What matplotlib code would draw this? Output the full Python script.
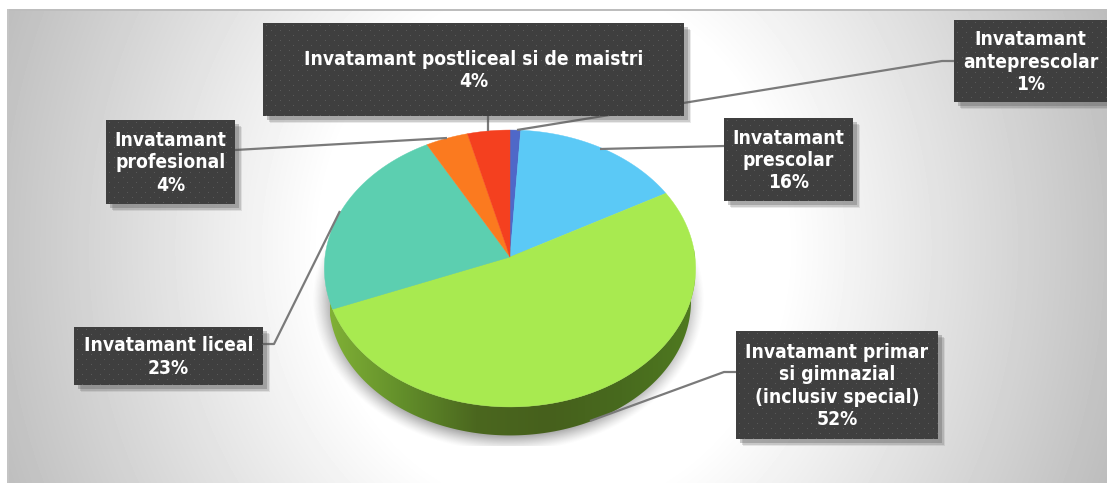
import numpy as np
import matplotlib
matplotlib.use('Agg')
import matplotlib.pyplot as plt
from matplotlib.patches import Polygon, Rectangle
from matplotlib.colors import LinearSegmentedColormap

# slices clockwise from 12 o'clock
categories = ['Invatamant\nantepreescolar'.replace('ee', 'e'), 'Invatamant\nprescolar',
              'Invatamant primar\nsi gimnazial\n(inclusiv special)',
              'Invatamant liceal', 'Invatamant\nprofesional',
              'Invatamant postliceal si de maistri']
values = [1, 16, 52, 23, 4, 4]
colors = ['#4F68C8', '#5BC9F6', '#A8EA50', '#5CCFB0', '#FB7A1F', '#F4401F']

# label boxes: left, top, right, bottom in pixels
boxes = [(954, 21, 1107, 103), (724, 119, 853, 202), (736, 332, 938, 440),
         (74, 328, 263, 386), (106, 121, 235, 205), (263, 24, 684, 117)]
leaders = [[(954, 62), (942, 62), (517, 131)],
           [(724, 147), (600, 150)],
           [(736, 373), (724, 373), (590, 422)],
           [(263, 345), (274, 345), (340, 212)],
           [(235, 151), (447, 139)],
           [(488, 117), (488, 132)]]

W, H = 1107, 485
CX, CY = 510, 258
RX, RY, K = 185, 137.5, 0.083

fig = plt.figure(figsize=(W / 100, H / 100), dpi=100)
ax = fig.add_axes([0, 0, 1, 1])
ax.axis('off')


def project(theta):
    u, v = np.sin(theta), -np.cos(theta)
    d = 1 - K * v
    return CX + RX * u / d, CY + RY * v / d


# panel background
yy, xx = np.mgrid[11:484, 7:1107]
r = np.sqrt(((xx - 553) / 553.0) ** 2 + ((yy - 248) / 620.0) ** 2)
bg = 1 - np.clip(r - 0.42, 0, None) * 0.40
ax.imshow(bg, extent=(7, 1107, 484, 11), cmap='gray', vmin=0, vmax=1, aspect='auto', zorder=0)
ax.add_patch(Rectangle((7, 10), 1100, 2, fc='#BDBDBD', ec='none', zorder=1))
ax.add_patch(Rectangle((7, 10), 1.5, 474, fc='#C4C4C4', ec='none', zorder=1))

# soft shadow under the pie
yy, xx = np.mgrid[250:447, 305:715]
d = np.sqrt(((xx - 508) / 196.0) ** 2 + ((yy - 300) / 152.0) ** 2)
rgba = np.zeros(d.shape + (4,))
rgba[..., :3] = 0.35
rgba[..., 3] = np.clip((1.0 - d) / 0.1, 0, 1) ** 1.3 * 0.5
ax.imshow(rgba, extent=(305, 715, 447, 250), aspect='auto', zorder=2)

# side of the pie
t = np.linspace(np.pi * 0.44, np.pi * 1.56, 200)
tx, ty = project(t)
bx = CX + 0.975 * (tx - CX)
by = CY + 0.97 * (ty - CY) + 33
side = Polygon(np.r_[np.c_[tx, ty], np.c_[bx, by][::-1]], closed=True, fc='none', ec='none', zorder=3)
ax.add_patch(side)
side_cm = LinearSegmentedColormap.from_list('side', [(0, '#80B036'), (0.2, '#628E2A'), (0.4, '#4B671F'),
                                                     (0.6, '#46601C'), (0.8, '#486A1E'), (1, '#4F7A20')])
grad = ax.imshow(np.linspace(0, 1, 256)[None, :], extent=(330, 695, 445, 250), cmap=side_cm,
                 aspect='auto', zorder=3)
grad.set_clip_path(side)

# top face
start = 0.0
for val, col in zip(values, colors):
    end = start + val / sum(values)
    a = np.linspace(start, end, 80) * 2 * np.pi
    x, y = project(a)
    pts = np.r_[[(CX, CY)], np.c_[x, y]]
    ax.add_patch(Polygon(pts, closed=True, fc=col, ec=col, lw=0.3, zorder=4))
    start = end

# leader lines
for pts in leaders:
    p = np.array(pts)
    ax.plot(p[:, 0], p[:, 1], color='#7A7A7A', lw=1.6, zorder=5, solid_capstyle='butt')

# labels
for (l, t_, r_, b), cat, val in zip(boxes, categories, values):
    for off, al in [(7, 0.12), (5.5, 0.2), (4, 0.3)]:
        ax.add_patch(Rectangle((l + off, t_ + off), r_ - l, b - t_, fc='#555555', ec='none', alpha=al, zorder=6))
    # dotted texture of the box
    jj, ii = np.mgrid[0:b - t_, 0:r_ - l]
    tex = np.full(jj.shape, 0x3F / 255.0)
    shift = (jj // 5 % 2) * 4
    tex[((ii + shift) % 9 == 3) & (jj % 5 == 2)] = 0x5A / 255.0
    ax.imshow(tex, extent=(l, r_, b, t_), cmap='gray', vmin=0, vmax=1, aspect='auto',
              interpolation='nearest', zorder=7)
    ax.text((l + r_) / 2, (t_ + b) / 2, f'{cat}\n{val}%', color='white', fontsize=13.8, fontweight='bold',
            family='DejaVu Sans', stretch='condensed', ha='center', va='center', linespacing=1.22, zorder=8)

ax.set_xlim(0, W)
ax.set_ylim(H, 0)
fig.savefig('out.png', dpi=100, facecolor='white')
